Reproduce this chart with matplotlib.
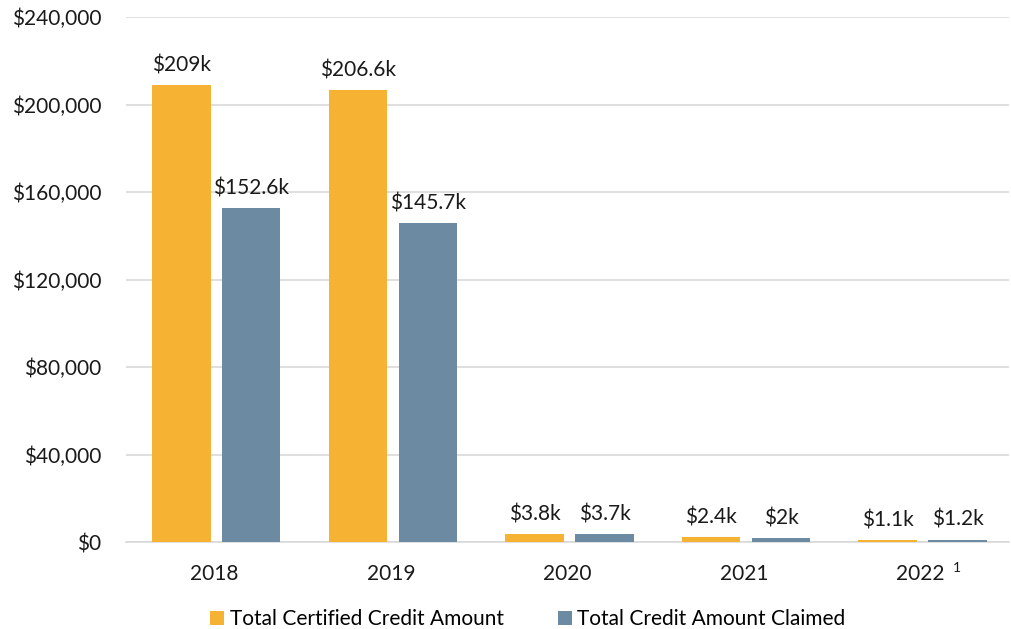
import numpy as np
import matplotlib
matplotlib.use('Agg')
import matplotlib.pyplot as plt
from matplotlib.ticker import FuncFormatter

plt.rcParams['font.family'] = ['Lato', 'DejaVu Sans']

years = ['2018', '2019', '2020', '2021', '2022']
certified = [209000, 206600, 3800, 2400, 1100]
claimed = [152600, 145700, 3700, 2000, 1200]
certified_labels = ['$209k', '$206.6k', '$3.8k', '$2.4k', '$1.1k']
claimed_labels = ['$152.6k', '$145.7k', '$3.7k', '$2k', '$1.2k']

orange = '#F6B233'
blue = '#6C8BA3'

size = 1011, 629
dpi = 100.0
fig = plt.figure(figsize=(size[0]/dpi, size[1]/dpi), dpi=dpi)
ax = fig.add_axes([0.125, 0.138, 0.873, 0.835])

x = np.arange(len(years))
w = 0.33
off = 0.198
b1 = ax.bar(x - off + 0.01, certified, w, color=orange, label='Total Certified Credit Amount', zorder=3)
b2 = ax.bar(x + off + 0.01, claimed, w, color=blue, label='Total Credit Amount Claimed', zorder=3)

for bars, labs in ((b1, certified_labels), (b2, claimed_labels)):
    for r, t in zip(bars, labs):
        ax.annotate(t, (r.get_x() + r.get_width()/2, r.get_height()),
                    xytext=(0, 7), textcoords='offset points',
                    ha='center', va='bottom', fontsize=15, color='#1a1a1a')

ax.set_ylim(0, 240000)
ax.set_xlim(-0.5, len(years) - 0.5)
ax.set_yticks(np.arange(0, 240001, 40000))
ax.yaxis.set_major_formatter(FuncFormatter(lambda v, p: '${:,.0f}'.format(v)))
ax.set_xticks(x)
ax.set_xticklabels(years)
ax.tick_params(axis='both', length=0, labelsize=15, colors='#1a1a1a')
ax.tick_params(axis='y', pad=18)
ax.tick_params(axis='x', pad=16)
ax.grid(axis='y', color='#d9d9d9', linewidth=1.2, zorder=0)
for s in ('left', 'right', 'top'):
    ax.spines[s].set_visible(False)
ax.spines['bottom'].set_color('#d9d9d9')
ax.spines['bottom'].set_linewidth(1.2)

# footnote marker on the last year
ax.annotate('1', (x[-1], 0), xytext=(23, -14), textcoords='offset points',
            ha='left', va='top', fontsize=10, color='#1a1a1a')

fig.legend(loc='lower center', bbox_to_anchor=(0.522, -0.03), ncol=2, frameon=False,
           fontsize=15, handlelength=0.7, handleheight=0.7, handletextpad=0.25,
           columnspacing=2.6)

fig.savefig('out.png', dpi=dpi)
